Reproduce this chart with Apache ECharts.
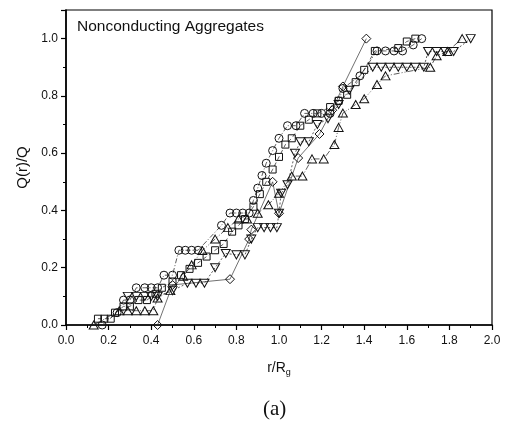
<!DOCTYPE html>
<html><head><meta charset="utf-8">
<script src="https://cdn.jsdelivr.net/npm/echarts@6/dist/echarts.min.js"></script>
<style>html,body{margin:0;padding:0;background:#fff}#c{width:505px;height:439px}</style>
</head><body><div id="c"></div>
<script>
const xTicks = [0,0.2,0.4,0.6,0.8,1.0,1.2,1.4,1.6,1.8,2.0];
const yTicks = [0,0.2,0.4,0.6,0.8,1.0];

const circles = [[0.17,0.0],[0.24,0.043],[0.27,0.087],[0.30,0.087],[0.33,0.13],[0.37,0.13],[0.40,0.13],[0.43,0.13],[0.46,0.174],[0.50,0.174],[0.53,0.261],[0.56,0.261],[0.59,0.261],[0.62,0.261],[0.73,0.348],[0.77,0.391],[0.80,0.391],[0.83,0.391],[0.86,0.391],[0.88,0.435],[0.90,0.478],[0.92,0.522],[0.94,0.565],[0.97,0.609],[1.00,0.652],[1.04,0.696],[1.08,0.696],[1.12,0.739],[1.16,0.739],[1.20,0.739],[1.24,0.739],[1.28,0.783],[1.30,0.826],[1.38,0.87],[1.46,0.957],[1.50,0.957],[1.54,0.957],[1.58,0.957],[1.63,0.978],[1.67,1.0]];

const squares = [[0.15,0.022],[0.18,0.022],[0.21,0.022],[0.23,0.043],[0.27,0.065],[0.30,0.065],[0.34,0.087],[0.38,0.087],[0.42,0.109],[0.45,0.13],[0.50,0.152],[0.54,0.174],[0.58,0.196],[0.62,0.217],[0.66,0.239],[0.70,0.261],[0.74,0.283],[0.78,0.326],[0.81,0.348],[0.84,0.37],[0.88,0.413],[0.91,0.457],[0.94,0.5],[0.97,0.543],[1.0,0.587],[1.03,0.63],[1.06,0.652],[1.10,0.696],[1.14,0.717],[1.18,0.739],[1.24,0.761],[1.28,0.783],[1.32,0.804],[1.36,0.848],[1.40,0.891],[1.45,0.957],[1.56,0.967],[1.60,0.99],[1.64,1.0]];

const upTriangles = [[0.13,0.0],[0.25,0.05],[0.29,0.05],[0.33,0.05],[0.37,0.05],[0.41,0.05],[0.43,0.094],[0.49,0.12],[0.55,0.17],[0.59,0.21],[0.64,0.26],[0.70,0.30],[0.76,0.34],[0.81,0.37],[0.85,0.37],[0.90,0.39],[0.95,0.42],[1.0,0.46],[1.06,0.52],[1.11,0.52],[1.155,0.58],[1.21,0.58],[1.26,0.63],[1.28,0.69],[1.30,0.74],[1.36,0.77],[1.40,0.79],[1.46,0.84],[1.50,0.87],[1.71,0.90],[1.74,0.94],[1.79,0.955],[1.86,1.0]];

const downTriangles = [[0.29,0.10],[0.33,0.10],[0.37,0.10],[0.40,0.10],[0.43,0.10],[0.50,0.12],[0.57,0.146],[0.61,0.146],[0.65,0.146],[0.70,0.20],[0.75,0.25],[0.80,0.245],[0.84,0.245],[0.87,0.30],[0.90,0.34],[0.93,0.34],[0.96,0.34],[0.99,0.34],[1.0,0.39],[1.01,0.46],[1.04,0.49],[1.075,0.60],[1.10,0.64],[1.14,0.64],[1.18,0.70],[1.23,0.72],[1.28,0.77],[1.33,0.82],[1.44,0.90],[1.48,0.90],[1.52,0.90],[1.56,0.90],[1.60,0.90],[1.64,0.90],[1.68,0.90],[1.70,0.955],[1.74,0.955],[1.78,0.955],[1.82,0.955],[1.90,1.0]];

const diamonds = [[0.43,0.0],[0.50,0.14],[0.77,0.16],[0.86,0.30],[0.87,0.333],[0.97,0.50],[1.0,0.39],[1.09,0.583],[1.19,0.667],[1.25,0.75],[1.30,0.833],[1.41,1.0]];

const chart = echarts.init(document.getElementById('c'));
const font = '"Liberation Sans", Arial, sans-serif';
const downTri = 'path://M0,0 L10,0 L5,9 Z';
const upTri = 'path://M5,0 L10,9 L0,9 Z';
const diam = 'path://M5,0 L10,5 L5,10 L0,5 Z';

function mk(name, data, symbol, size, dash, lw) {
  return {
    name, type: 'line', data, symbol, symbolSize: size,
    itemStyle: { color: 'rgba(255,255,255,0)', borderColor: '#111', borderWidth: 1 },
    lineStyle: { color: '#333', width: lw, type: dash },
    emphasis: { disabled: true }, animation: false, z: 3
  };
}

chart.setOption({
  animation: false,
  grid: { left: 66, right: 13, top: 10, bottom: 114, show: true, borderColor: '#000', borderWidth: 1.2 },
  xAxis: {
    type: 'value', min: 0, max: 2, interval: 0.2,
    axisLine: { show: true, onZero: false, lineStyle: { color: '#000', width: 1.6 } },
    axisTick: { show: true, length: 5, lineStyle: { color: '#000', width: 1.2 } },
    minorTick: { show: true, splitNumber: 2, length: 3, lineStyle: { color: '#000', width: 1 } },
    splitLine: { show: false },
    axisLabel: { color: '#111', fontFamily: font, fontSize: 12, margin: 10,
      formatter: v => xTicks.some(t => Math.abs(t - v) < 1e-6) ? v.toFixed(1) : '' },
    name: '{a|r/R}{b|g}', nameLocation: 'middle', nameGap: 34,
    nameTextStyle: { rich: {
      a: { fontFamily: font, fontSize: 14, color: '#111' },
      b: { fontFamily: font, fontSize: 9, color: '#111', verticalAlign: 'bottom', padding: [9,0,0,0] } } }
  },
  yAxis: {
    type: 'value', min: 0, max: 1.1, interval: 0.2,
    axisLine: { show: true, onZero: false, lineStyle: { color: '#000', width: 1.6 } },
    axisTick: { show: true, length: 5, lineStyle: { color: '#000', width: 1.2 } },
    minorTick: { show: true, splitNumber: 2, length: 3, lineStyle: { color: '#000', width: 1 } },
    splitLine: { show: false },
    axisLabel: { color: '#111', fontFamily: font, fontSize: 12, margin: 8, showMaxLabel: false,
      formatter: v => yTicks.some(t => Math.abs(t - v) < 1e-6) ? v.toFixed(1) : '' },
    name: 'Q(r)/Q', nameLocation: 'middle', nameGap: 30, nameRotate: 90,
    nameTextStyle: { fontFamily: font, fontSize: 15, color: '#111' }
  },
  graphic: [
    { type: 'text', left: 77, top: 19, style: { text: 'Nonconducting Aggregates', font: '15.5px "Liberation Sans", Arial, sans-serif', fill: '#111' } },
    { type: 'text', left: 263, top: 399, style: { text: '(a)', font: '21px "Liberation Serif", "Times New Roman", serif', fill: '#111' } }
  ],
  series: [
    mk('circles', circles, 'circle', 8, [5,2,1,2], 0.8),
    mk('squares', squares, 'rect', 7, [4,3], 0.8),
    mk('up', upTriangles, upTri, [9,8], [6,2,1,2,1,2], 0.8),
    mk('down', downTriangles, downTri, [9,8], [2,2], 0.8),
    mk('diamonds', diamonds, diam, 9, 'solid', 0.7)
  ]
});
</script></body></html>
